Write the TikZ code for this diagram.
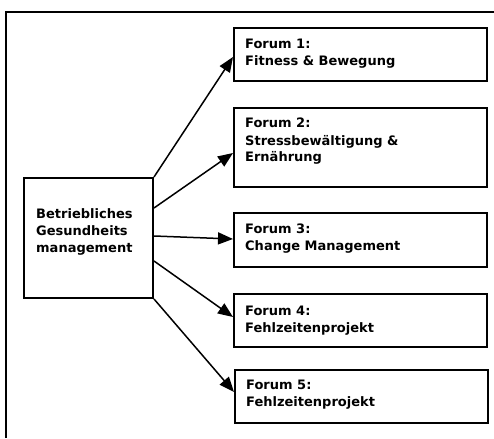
\documentclass[tikz,border=0pt]{standalone}
\usepackage{fontspec}
\setmainfont{DejaVu Sans}
\usetikzlibrary{arrows.meta,calc}
\begin{document}
\begin{tikzpicture}[x=1pt,y=-1pt,
  frame/.style={line width=2pt},
  box/.style={draw, line width=2pt, anchor=north west, inner sep=0pt},
  txt/.style={anchor=base west, inner sep=0pt, align=left,
    font=\fontsize{13}{17}\selectfont\bfseries},
  arr/.style={line width=1.5pt, -{Triangle[length=15pt,width=12pt]}}]
\useasboundingbox (0,0) rectangle (494,438);
\draw[frame] (6,438) -- (6,12) -- (494,12);
% central box
\node[box, minimum width=129pt, minimum height=120pt] (c) at (23,177) {};
\node[txt] (ct) at (36,252) {Betriebliches\\Gesundheits\\management};
% forum boxes
\node[box, minimum width=253pt, minimum height=53pt] (f1) at (233,27) {};
\node[box, minimum width=253pt, minimum height=79pt] (f2) at (233,107) {};
\node[box, minimum width=253pt, minimum height=54pt] (f3) at (233,212) {};
\node[box, minimum width=253pt, minimum height=53pt] (f4) at (233,293) {};
\node[box, minimum width=253pt, minimum height=53pt] (f5) at (234,369) {};
\node[txt] (t1) at (245,66) {Forum 1:\\Fitness \& Bewegung};
\node[txt] (t2) at (245,162) {Forum 2:\\Stressbewältigung \&\\Ernährung};
\node[txt] (t3) at (245,250) {Forum 3:\\Change Management};
\node[txt] (t4) at (245,332) {Forum 4:\\Fehlzeitenprojekt};
\node[txt] (t5) at (246,406) {Forum 5:\\Fehlzeitenprojekt};
% arrows
\draw[arr] (c.north east) -- ($(f1.north west)+(0,30)$);
\draw[arr] ($(c.north east)+(0,31)$) -- ($(f2.north west)+(0,46)$);
\draw[arr] ($(c.north east)+(0,59)$) -- ($(f3.north west)+(0,27)$);
\draw[arr] ($(c.north east)+(0,84)$) -- ($(f4.north west)+(0,24)$);
\draw[arr] (c.south east) -- ($(f5.north west)+(0,23)$);
\end{tikzpicture}
\end{document}
